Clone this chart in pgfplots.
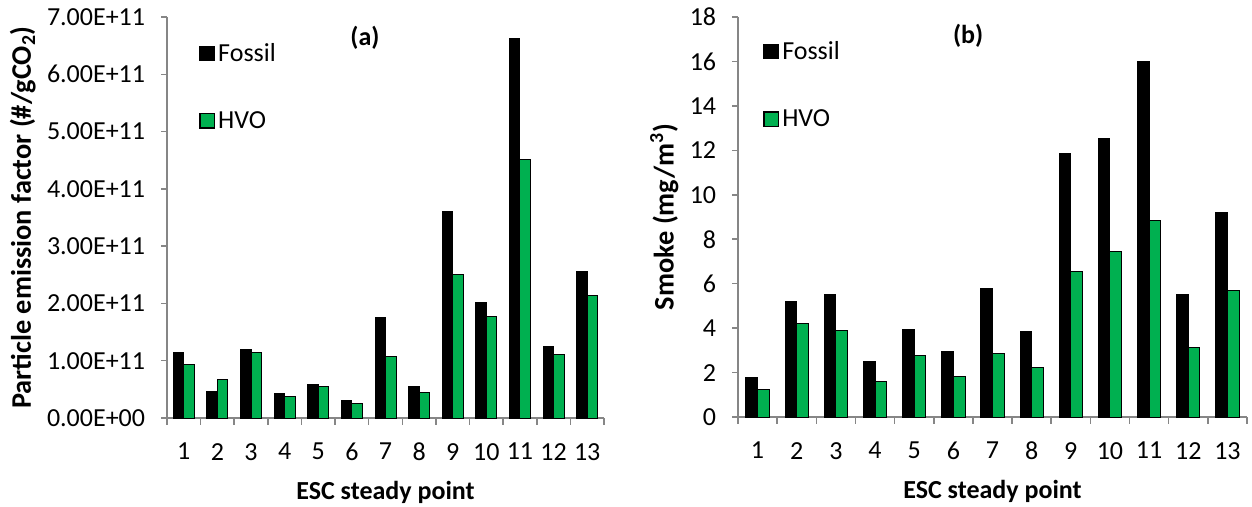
\documentclass[border=0pt]{standalone}
\usepackage{fontspec}
\setmainfont{Carlito}
\usepackage{pgfplots}
\pgfplotsset{compat=1.18}
\definecolor{hvo}{RGB}{0,176,80}
\definecolor{axgray}{RGB}{134,134,134}
\newcommand{\fbig}{\fontsize{15.6}{18.7}\selectfont}
\newcommand{\flab}{\fontsize{17}{20}\selectfont}

\pgfplotsset{
  escstyle/.style={
    scale only axis,
    axis x line*=bottom, axis y line*=left,
    axis line style={draw=axgray, line width=0.9pt, -},
    xmin=0.5, xmax=13.5, enlarge x limits=false,
    xtick={1,...,13}, minor xtick={0.5,1.5,...,13.5},
    tick align=outside,
    major tick length=3.6pt, minor tick length=4pt,
    tick style={draw=axgray, line width=0.9pt},
    major x tick style={draw=none},
    /pgf/number format/assume math mode=true,
    xticklabel style={font=\fbig, text=black, yshift=-8pt},
    yticklabel style={font=\fbig, text=black, xshift=-6pt},
    xlabel style={font=\fbig\bfseries, yshift=-5pt},
    ylabel style={font=\flab\bfseries},
    legend style={draw=none, fill=none, font=\fbig, row sep=24.5pt, inner sep=0pt},
    legend cell align=left,
    every axis title shift=0pt,
    title style={font=\fbig\bfseries, anchor=center, yshift=0pt},
    ymin=0,
    ybar=0pt,
  },
  fossilbar/.style={fill=black, draw=black, line width=0.6pt,
    legend image code/.code={\draw[fill=black, draw=black, line width=0.6pt] (0pt,-4.3pt) rectangle (8.6pt,4.3pt);}},
  hvobar/.style={fill=hvo, draw=black, line width=0.6pt,
    legend image code/.code={\draw[fill=hvo, draw=black, line width=0.8pt] (0pt,-4.3pt) rectangle (8.6pt,4.3pt);}},
}

\begin{document}
\begin{tikzpicture}
\path[use as bounding box] (0,0) rectangle (751.2pt,303.6pt);

\begin{axis}[escstyle,
  at={(100.2pt,52.8pt)}, anchor=south west,
  width=262.2pt, height=240.6pt,
  bar width=6.3pt,
  ymax=7e11,
  ytick={0,1e11,2e11,3e11,4e11,5e11,6e11,7e11},
  yticklabels={0.00E+00,1.00E+11,2.00E+11,3.00E+11,4.00E+11,5.00E+11,6.00E+11,7.00E+11},
  scaled y ticks=false,
  xlabel={ESC steady point},
  ylabel={Particle emission factor (\#/gCO\textsubscript{2})},
  title={(a)}, title style={at={(0.453,0.948)}},
  legend style={at={(0.073,0.944)}, anchor=north west},
]
\addplot[fossilbar] coordinates {
 (1,1.15e11) (2,0.46e11) (3,1.19e11) (4,0.42e11) (5,0.58e11) (6,0.31e11) (7,1.75e11)
 (8,0.55e11) (9,3.60e11) (10,2.02e11) (11,6.62e11) (12,1.24e11) (13,2.56e11)};
\addlegendentry{Fossil}
\addplot[hvobar] coordinates {
 (1,0.93e11) (2,0.68e11) (3,1.15e11) (4,0.38e11) (5,0.55e11) (6,0.26e11) (7,1.07e11)
 (8,0.45e11) (9,2.50e11) (10,1.77e11) (11,4.52e11) (12,1.10e11) (13,2.14e11)};
\addlegendentry{HVO}
\end{axis}

\begin{axis}[escstyle,
  at={(442.8pt,53.4pt)}, anchor=south west,
  width=305.4pt, height=240pt,
  bar width=7pt,
  ymax=18,
  ytick={0,2,...,18},
  xlabel={ESC steady point},
  ylabel={Smoke (mg/m\textsuperscript{3})},
  title={(b)}, title style={at={(0.452,0.953)}},
  legend style={at={(0.049,0.948)}, anchor=north west},
]
\addplot[fossilbar] coordinates {
 (1,1.80) (2,5.22) (3,5.52) (4,2.49) (5,3.95) (6,2.97) (7,5.78)
 (8,3.84) (9,11.88) (10,12.55) (11,16.0) (12,5.53) (13,9.22)};
\addlegendentry{Fossil}
\addplot[hvobar] coordinates {
 (1,1.25) (2,4.20) (3,3.89) (4,1.62) (5,2.79) (6,1.82) (7,2.84)
 (8,2.25) (9,6.56) (10,7.45) (11,8.86) (12,3.11) (13,5.71)};
\addlegendentry{HVO}
\end{axis}
\end{tikzpicture}
\end{document}
